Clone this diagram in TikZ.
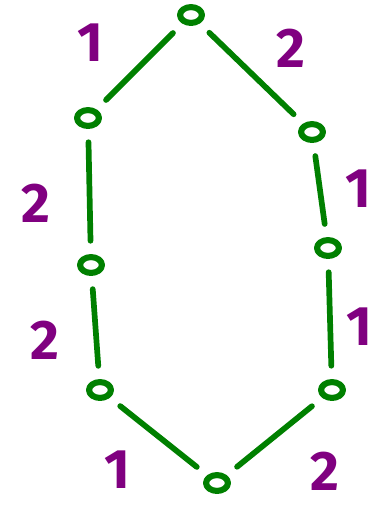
\documentclass[tikz,border=0pt]{standalone}
\usepackage{fontspec}
\setmainfont{Fira Sans}
\usetikzlibrary{shapes.geometric}
\definecolor{penGreen}{RGB}{0,128,0}
\definecolor{penPurple}{RGB}{128,0,128}
\tikzset{
  vert/.style={ellipse,draw=penGreen,line width=4.6pt,minimum width=.58cm,minimum height=.42cm,inner sep=0pt},
  edge/.style={draw=penGreen,line width=4.3pt,line cap=round,shorten <=10pt,shorten >=10pt},
  wt/.style={text=penPurple,font=\fontsize{42}{42}\selectfont\bfseries,inner sep=0pt}
}
\begin{document}
\begin{tikzpicture}[x=.265cm,y=-.265cm,line cap=round,line join=round]
  \useasboundingbox (0,0) rectangle (37.9,50.6);
  \node[vert] (top) at (19.1,1.5) {};
  \node[vert] (lu) at (8.8,11.8) {};
  \node[vert] (ru) at (31.2,13.2) {};
  \node[vert] (lm) at (9.1,26.5) {};
  \node[vert] (rm) at (32.8,24.8) {};
  \node[vert] (ll) at (10,39) {};
  \node[vert] (rl) at (33.2,39) {};
  \node[vert] (bot) at (21.7,48.3) {};
  \draw[edge] (top)--(lu);
  \draw[edge] (top)--(ru);
  \draw[edge] (lu)--(lm);
  \draw[edge] (ru)--(rm);
  \draw[edge] (lm)--(ll);
  \draw[edge] (rm)--(rl);
  \draw[edge] (ll)--(bot);
  \draw[edge] (rl)--(bot);
  \node[wt] (w1) at (9,4.3) {1};
  \node[wt] (w2) at (29.1,4.8) {2};
  \node[wt] (w3) at (3.6,20.3) {2};
  \node[wt] (w4) at (35.8,18.9) {1};
  \node[wt] (w5) at (4.5,34) {2};
  \node[wt] (w6) at (35.9,32.7) {1};
  \node[wt] (w7) at (11.7,47) {1};
  \node[wt] (w8) at (32.5,47.1) {2};
\end{tikzpicture}
\end{document}
